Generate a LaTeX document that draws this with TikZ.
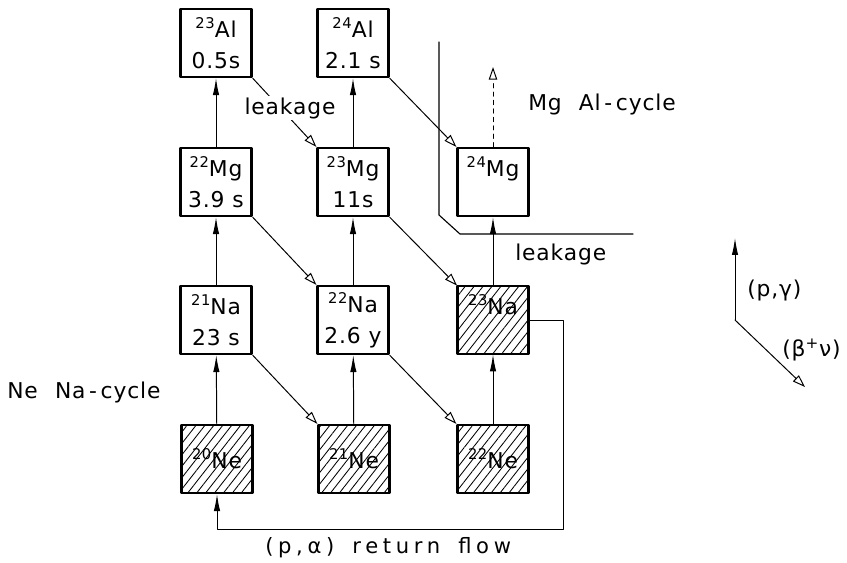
\documentclass[tikz,border=0pt]{standalone}
\usepackage{fontspec}
\setmainfont{DejaVu Sans}[LetterSpace=4.0]
\newfontfamily\labelfont{DejaVu Sans}[LetterSpace=4.0, WordSpace=2.2]
\newfontfamily\spreadfont{DejaVu Sans}[LetterSpace=22.0, WordSpace=1.6]
\usetikzlibrary{arrows.meta,patterns.meta}

\newcommand{\isotope}[2]{\raisebox{0.42em}{\fontsize{10.5}{12}\selectfont #1}#2}

\tikzset{
  nucbox/.style={draw, line width=1.6pt, minimum width=1.775cm,
    minimum height=1.7cm, align=center, inner sep=0pt},
  stablebox/.style={nucbox, pattern={Lines[angle=52,distance=5pt,line width=0.6pt]}},
  pgamma/.style={line width=0.7pt, -{Latex[length=12pt,width=4.5pt]}},
  betadecay/.style={line width=0.7pt, -{Triangle[open,length=9pt,width=6pt]}},
  lbl/.style={right, inner sep=0pt, font=\fontsize{15.5}{22}\labelfont},
}

\begin{document}
\begin{tikzpicture}[x=0.025cm, y=-0.025cm, line cap=round, line join=round,
    font=\fontsize{15.5}{22}\selectfont]
  \useasboundingbox (0,0) rectangle (847,562);

  % Nuclei, one column per neutron number
  \node[nucbox] (Al23) at (216,43) {\isotope{23}{Al}\\0.5s};
  \node[nucbox] (Al24) at (353,43) {\isotope{24}{Al}\\2.1 s};

  \node[nucbox] (Mg22) at (216,182) {\isotope{22}{Mg}\\3.9 s};
  \node[nucbox] (Mg23) at (353,182) {\isotope{23}{Mg}\\11s};
  \node[nucbox] (Mg24) at (493,182) {\isotope{24}{Mg}\\\phantom{0}};

  \node[nucbox] (Na21) at (216,320) {\isotope{21}{Na}\\23 s};
  \node[nucbox] (Na22) at (353,320) {\isotope{22}{Na}\\2.6 y};
  \node[stablebox] (Na23) at (493,320) {\isotope{23}{Na}\\\phantom{0}};

  \node[stablebox] (Ne20) at (217,459) {\isotope{20}{Ne}};
  \node[stablebox] (Ne21) at (354,459) {\isotope{21}{Ne}};
  \node[stablebox] (Ne22) at (493,459) {\isotope{22}{Ne}};

  % Proton captures
  \draw[pgamma] (Ne20) -- (Na21);
  \draw[pgamma] (Na21) -- (Mg22);
  \draw[pgamma] (Mg22) -- (Al23);
  \draw[pgamma] (Ne21) -- (Na22);
  \draw[pgamma] (Na22) -- (Mg23);
  \draw[pgamma] (Mg23) -- (Al24);
  \draw[pgamma] (Ne22) -- (Na23);
  \draw[pgamma] (Na23) -- (Mg24);

  % Beta decays
  \draw[betadecay] (Na21.south east) -- (Ne21.north west);
  \draw[betadecay] (Na22.south east) -- (Ne22.north west);
  \draw[betadecay] (Mg22.south east) -- (Na22.north west);
  \draw[betadecay] (Mg23.south east) -- (Na23.north west);
  \draw[betadecay] (Al23.south east) -- (Mg23.north west);
  \draw[betadecay] (Al24.south east) -- (Mg24.north west);

  \coordinate (MgOut) at (493,67);
  \draw[betadecay, dashed] (Mg24) -- (MgOut);

  % Return flow
  \coordinate (RF) at (563,529);
  \draw[pgamma] (Na23.east) -| (RF) -| (Ne20.south);

  % Border of the Mg Al-cycle
  \coordinate (B1) at (439,42);
  \coordinate (B2) at (439,215);
  \coordinate (B3) at (460,234);
  \coordinate (B4) at (633,234);
  \draw[line width=0.8pt] (B1) -- (B2) -- (B3) -- (B4);

  % Key
  \coordinate (K) at (735,320);
  \coordinate (Kup) at (735,238);
  \coordinate (Kdn) at (805,387);
  \draw[pgamma] (K) -- (Kup);
  \draw[betadecay] (K) -- (Kdn);

  % Labels
  \node[fill=white, inner sep=1pt] (leak1) at (290,108) {leakage};
  \node[lbl] (leak2) at (515,254) {leakage};
  \node[lbl] (mgal) at (528,104) {Mg Al\,-\,cycle};
  \node[lbl] (nena) at (7,392) {Ne Na\,-\,cycle};
  \node[right, inner sep=0pt, font=\fontsize{15}{17}\spreadfont] (ret) at (265,548) {(p,α) return flow};
  \node[lbl] (pg) at (747,290) {(p,γ)};
  \node[lbl] (bnu) at (782,350) {(β\textsuperscript{+}ν)};
\end{tikzpicture}
\end{document}
